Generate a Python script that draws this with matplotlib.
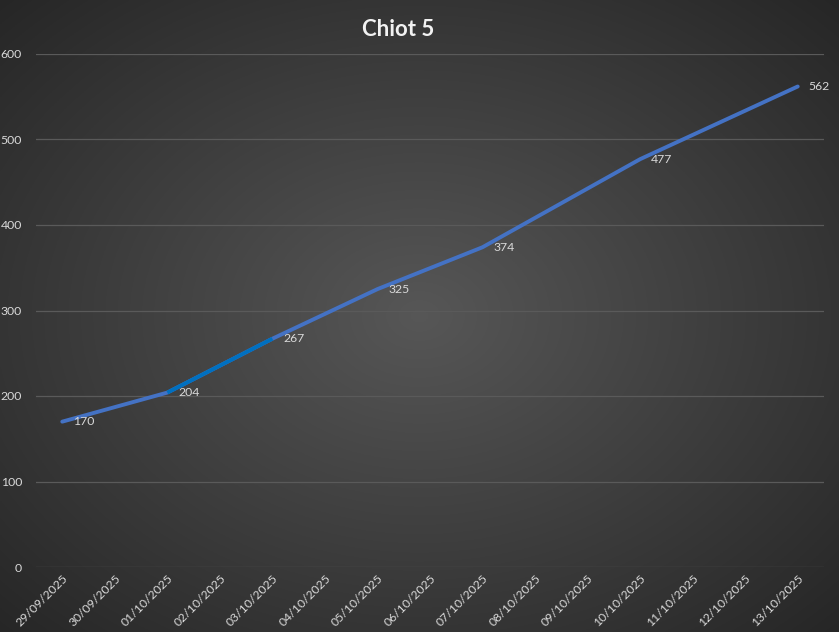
import numpy as np
import matplotlib.pyplot as plt

# category axis: every day, values only on measured days
days = ['29/09/2025', '30/09/2025', '01/10/2025', '02/10/2025', '03/10/2025',
        '04/10/2025', '05/10/2025', '06/10/2025', '07/10/2025', '08/10/2025',
        '09/10/2025', '10/10/2025', '11/10/2025', '12/10/2025', '13/10/2025']
measure_days = ['29/09/2025', '01/10/2025', '03/10/2025', '05/10/2025',
                '07/10/2025', '10/10/2025', '13/10/2025']
weights = [170, 204, 267, 325, 374, 477, 562]
title = 'Chiot 5'

plt.rcParams['font.family'] = ['Lato', 'DejaVu Sans']

fig = plt.figure(figsize=(8.39, 6.32), dpi=100)

# radial gradient background
bg = fig.add_axes([0, 0, 1, 1])
yy, xx = np.mgrid[-1:1:400j, -1:1:500j]
r = np.clip(np.sqrt(xx**2 + yy**2) / np.sqrt(2), 0, 1)
shade = 0.34 - 0.19 * r
bg.imshow(np.dstack([shade, shade, shade]), aspect='auto', extent=[0, 1, 0, 1])
bg.axis('off')

ax = fig.add_axes([36/839, 1 - 567/632, (824 - 36)/839, (567 - 54)/632])
ax.patch.set_alpha(0)

x = [days.index(d) for d in measure_days]
ax.plot(x, weights, color='#4472C4', lw=2.8, solid_capstyle='round', zorder=3)
# one point formatted differently in the source (segment 01/10 -> 03/10)
ax.plot(x[1:3], weights[1:3], color='#0070C0', lw=2.8, solid_capstyle='butt', zorder=4)

for xi, w in zip(x, weights):
    ax.annotate(str(w), (xi, w), xytext=(8, 0), textcoords='offset points',
                ha='left', va='center', color='#D9D9D9', fontsize=8.8)

ax.set_xlim(-0.5, len(days) - 0.5)
ax.set_ylim(0, 600)
ax.set_yticks(range(0, 601, 100))
ax.set_xticks(range(len(days)))
ax.set_xticklabels(days, rotation=45, ha='right', va='top',
                   rotation_mode='anchor')
ax.tick_params(axis='both', length=0, colors='#D9D9D9', labelsize=8.8)
ax.tick_params(axis='x', pad=4)
ax.tick_params(axis='y', pad=10)
ax.grid(axis='y', color='#5A5A5A', lw=0.9)
ax.set_axisbelow(True)
for s in ax.spines.values():
    s.set_visible(False)

fig.text(398/839, 1 - 29/632, title, ha='center', va='center',
         color='#F2F2F2', fontsize=16, fontweight='bold')

fig.savefig('out.png', dpi=100)
